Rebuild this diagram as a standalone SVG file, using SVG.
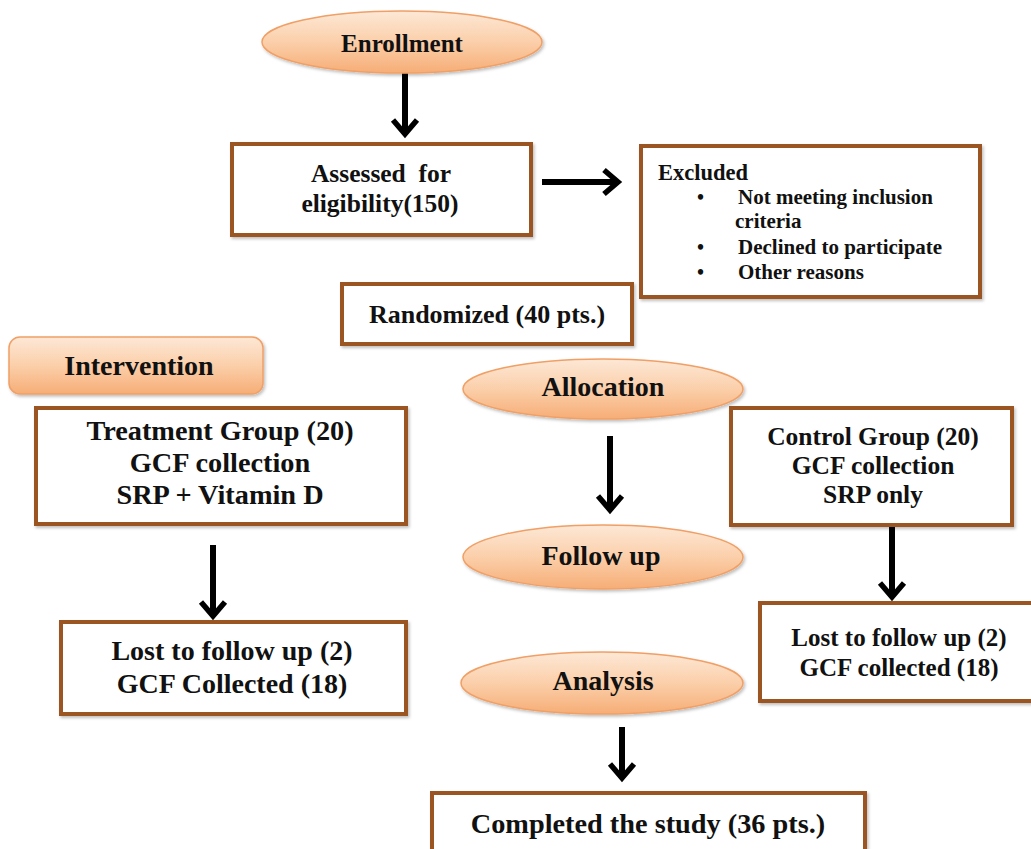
<svg xmlns="http://www.w3.org/2000/svg" width="1031" height="849" viewBox="0 0 1031 849">
<defs>
<linearGradient id="peach" x1="0" y1="0" x2="0" y2="1">
<stop offset="0" stop-color="#fde8d6"/>
<stop offset="0.5" stop-color="#fbcfaa"/>
<stop offset="1" stop-color="#f6ad76"/>
</linearGradient>
<filter id="sh" x="-10%" y="-10%" width="120%" height="130%">
<feDropShadow dx="1.5" dy="2" stdDeviation="1.5" flood-color="#000" flood-opacity="0.25"/>
</filter>
<marker id="chev" viewBox="0 0 22 30" refX="17" refY="15" markerWidth="22" markerHeight="30" markerUnits="userSpaceOnUse" orient="auto">
<path d="M3,3 L17,15 L3,27" fill="none" stroke="#000" stroke-width="5.5" stroke-linejoin="miter"/>
</marker>
<style>
text{font-family:"Liberation Serif","Times New Roman",serif;font-weight:bold;fill:#111;}
.box{fill:#fff;stroke:#9a5520;stroke-width:4;filter:url(#sh);}
.ell{fill:url(#peach);stroke:#f0a066;stroke-width:1.5;filter:url(#sh);}
.c{text-anchor:middle;}
.arr{fill:none;stroke:#000;stroke-width:6;marker-end:url(#chev);}
</style>
</defs>
<g id="connectors">
<line class="arr" x1="405" y1="73" x2="405" y2="134"/>
<line class="arr" x1="542" y1="182" x2="618" y2="182"/>
<line class="arr" x1="610" y1="436" x2="610" y2="510"/>
<line class="arr" x1="892" y1="526" x2="892" y2="597"/>
<line class="arr" x1="213" y1="545" x2="213" y2="616"/>
<line class="arr" x1="622" y1="727" x2="622" y2="778"/>
</g>
<g id="enrollment">
<ellipse class="ell" cx="402" cy="42" rx="140" ry="31"/>
<text class="c" x="402" y="52" font-size="25">Enrollment</text>
</g>
<g id="assessed">
<rect class="box" x="232" y="144" width="299" height="91"/>
<text class="c" x="381" y="182" font-size="25.5" xml:space="preserve">Assessed  for</text>
<text class="c" x="380" y="212" font-size="25.5">eligibility(150)</text>
</g>
<g id="excluded">
<rect class="box" x="641" y="146" width="339" height="151"/>
<text x="658" y="180" font-size="22.5">Excluded</text>
<text x="697" y="204" font-size="20">•</text>
<text x="738" y="204" font-size="21">Not meeting inclusion</text>
<text x="735" y="228" font-size="21">criteria</text>
<text x="697" y="254" font-size="20">•</text>
<text x="738" y="254" font-size="21">Declined to participate</text>
<text x="697" y="279" font-size="20">•</text>
<text x="738" y="279" font-size="21">Other reasons</text>
</g>
<g id="randomized">
<rect class="box" x="342" y="284" width="290" height="60"/>
<text class="c" x="487" y="323" font-size="26">Randomized (40 pts.)</text>
</g>
<g id="intervention">
<rect x="9" y="337" width="254" height="57" rx="11" fill="url(#peach)" stroke="#f0a066" stroke-width="1.5" filter="url(#sh)"/>
<text class="c" x="139" y="375" font-size="28">Intervention</text>
</g>
<g id="treatment">
<rect class="box" x="36" y="408" width="370" height="116"/>
<text class="c" x="220" y="440" font-size="28.3">Treatment Group (20)</text>
<text class="c" x="220" y="472" font-size="28.3">GCF collection</text>
<text class="c" x="220" y="504" font-size="28.3">SRP + Vitamin D</text>
</g>
<g id="allocation">
<ellipse class="ell" cx="603" cy="389" rx="140" ry="30"/>
<text class="c" x="603" y="396" font-size="28">Allocation</text>
</g>
<g id="control">
<rect class="box" x="731" y="408" width="281" height="117"/>
<text class="c" x="873" y="445" font-size="25.5">Control Group (20)</text>
<text class="c" x="873" y="474" font-size="25.5">GCF collection</text>
<text class="c" x="873" y="503" font-size="25.5">SRP only</text>
</g>
<g id="followup">
<ellipse class="ell" cx="603" cy="557" rx="140" ry="32"/>
<text class="c" x="601" y="565" font-size="28">Follow up</text>
</g>
<g id="lost-treatment">
<rect class="box" x="61" y="622" width="345" height="92"/>
<text class="c" x="232" y="660" font-size="28">Lost to follow up (2)</text>
<text class="c" x="232" y="693" font-size="28">GCF Collected (18)</text>
</g>
<g id="lost-control">
<rect class="box" x="760" y="603" width="280" height="98"/>
<text class="c" x="899" y="646" font-size="25">Lost to follow up (2)</text>
<text class="c" x="899" y="676" font-size="25">GCF collected (18)</text>
</g>
<g id="analysis">
<ellipse class="ell" cx="602" cy="683" rx="141" ry="31"/>
<text class="c" x="603" y="690" font-size="28">Analysis</text>
</g>
<g id="completed">
<rect class="box" x="432" y="793" width="433" height="70"/>
<text class="c" x="648" y="833" font-size="28.3">Completed the study (36 pts.)</text>
</g>
</svg>
